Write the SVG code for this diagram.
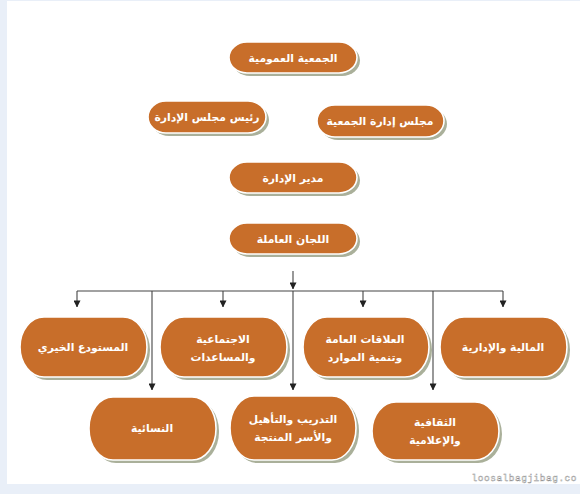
<svg xmlns="http://www.w3.org/2000/svg" width="580" height="494" viewBox="0 0 580 494">
<defs>
<style>
.sh{fill:#aab09a}
.bx{fill:#c86e2a;stroke:#ffffff;stroke-width:1.6}
.t{font-family:"DejaVu Sans","Noto Sans",sans-serif;font-weight:bold;font-size:10.8px;fill:#ffffff;text-anchor:middle}
.ln{stroke:#444444;stroke-width:1.1;fill:none}
.wm{font-family:"Liberation Mono",monospace;font-size:9.5px;letter-spacing:0.5px;fill:#ffffff;stroke:#8a8a8a;stroke-width:0.4}
</style>
<marker id="ar" viewBox="0 0 8 8" refX="7.5" refY="4" markerWidth="7" markerHeight="7" markerUnits="userSpaceOnUse" orient="auto">
<path d="M0,0 L8,4 L0,8 z" fill="#222222"/>
</marker>
</defs>
<rect x="0" y="0" width="580" height="494" fill="#e9eff8"/>
<rect x="7" y="1" width="573" height="483" fill="#ffffff"/>

<g id="connectors">
<line class="ln" x1="293" y1="271" x2="293" y2="289" marker-end="url(#ar)"/>
<line class="ln" x1="77" y1="291" x2="503" y2="291"/>
<line class="ln" x1="77" y1="291" x2="77" y2="307" marker-end="url(#ar)"/>
<line class="ln" x1="223" y1="291" x2="223" y2="307" marker-end="url(#ar)"/>
<line class="ln" x1="363" y1="291" x2="363" y2="307" marker-end="url(#ar)"/>
<line class="ln" x1="503" y1="291" x2="503" y2="307" marker-end="url(#ar)"/>
<line class="ln" x1="152" y1="291" x2="152" y2="390" marker-end="url(#ar)"/>
<line class="ln" x1="293" y1="291" x2="293" y2="390" marker-end="url(#ar)"/>
<line class="ln" x1="433" y1="291" x2="433" y2="390" marker-end="url(#ar)"/>
</g>

<g id="n-general-assembly">
<rect class="sh" x="232" y="45" width="128" height="31" rx="18" ry="15.5"/>
<rect class="bx" x="229" y="42" width="128" height="31" rx="18" ry="15.5"/>
<text class="t" x="293" y="61.5">الجمعية العمومية</text>
</g>

<g id="n-board-chair">
<rect class="sh" x="151" y="104" width="118" height="32" rx="18" ry="16"/>
<rect class="bx" x="148" y="101" width="118" height="32" rx="18" ry="16"/>
<text class="t" x="207" y="120.5">رئيس مجلس الإدارة</text>
</g>

<g id="n-board">
<rect class="sh" x="320" y="108" width="127" height="32" rx="18" ry="16"/>
<rect class="bx" x="317" y="105" width="127" height="32" rx="18" ry="16"/>
<text class="t" x="380" y="124.5">مجلس إدارة الجمعية</text>
</g>

<g id="n-director">
<rect class="sh" x="232" y="165" width="128" height="31" rx="18" ry="15.5"/>
<rect class="bx" x="229" y="162" width="128" height="31" rx="18" ry="15.5"/>
<text class="t" x="293" y="181.5">مدير الإدارة</text>
</g>

<g id="n-committees">
<rect class="sh" x="232" y="226" width="128" height="31" rx="18" ry="15.5"/>
<rect class="bx" x="229" y="223" width="128" height="31" rx="18" ry="15.5"/>
<text class="t" x="293" y="242.5">اللجان العاملة</text>
</g>

<g id="n-charity-store">
<rect class="sh" x="23" y="320" width="127" height="60" rx="24" ry="30"/>
<rect class="bx" x="20" y="317" width="127" height="60" rx="24" ry="30"/>
<text class="t" x="83" y="351">المستودع الخيري</text>
</g>

<g id="n-social">
<rect class="sh" x="163" y="320" width="127" height="60" rx="24" ry="30"/>
<rect class="bx" x="160" y="317" width="127" height="60" rx="24" ry="30"/>
<text class="t" x="223" y="343">الاجتماعية</text>
<text class="t" x="223" y="361">والمساعدات</text>
</g>

<g id="n-public-relations">
<rect class="sh" x="306" y="320" width="126" height="60" rx="24" ry="30"/>
<rect class="bx" x="303" y="317" width="126" height="60" rx="24" ry="30"/>
<text class="t" x="365" y="343">العلاقات العامة</text>
<text class="t" x="365" y="361">وتنمية الموارد</text>
</g>

<g id="n-finance">
<rect class="sh" x="443" y="320" width="127" height="60" rx="24" ry="30"/>
<rect class="bx" x="440" y="317" width="127" height="60" rx="24" ry="30"/>
<text class="t" x="503" y="351">المالية والإدارية</text>
</g>

<g id="n-women">
<rect class="sh" x="92" y="400" width="127" height="63" rx="24" ry="31"/>
<rect class="bx" x="89" y="397" width="127" height="63" rx="24" ry="31"/>
<text class="t" x="152" y="432">النسائية</text>
</g>

<g id="n-training">
<rect class="sh" x="233" y="399" width="126" height="64" rx="24" ry="32"/>
<rect class="bx" x="230" y="396" width="126" height="64" rx="24" ry="32"/>
<text class="t" x="293" y="423">التدريب والتأهيل</text>
<text class="t" x="293" y="441">والأسر المنتجة</text>
</g>

<g id="n-culture">
<rect class="sh" x="375" y="405" width="127" height="58" rx="24" ry="29"/>
<rect class="bx" x="372" y="402" width="127" height="58" rx="24" ry="29"/>
<text class="t" x="435" y="426">الثقافية</text>
<text class="t" x="435" y="444">والإعلامية</text>
</g>

<text class="wm" x="577" y="481" text-anchor="end">loosalbagjibag.co</text>
</svg>
